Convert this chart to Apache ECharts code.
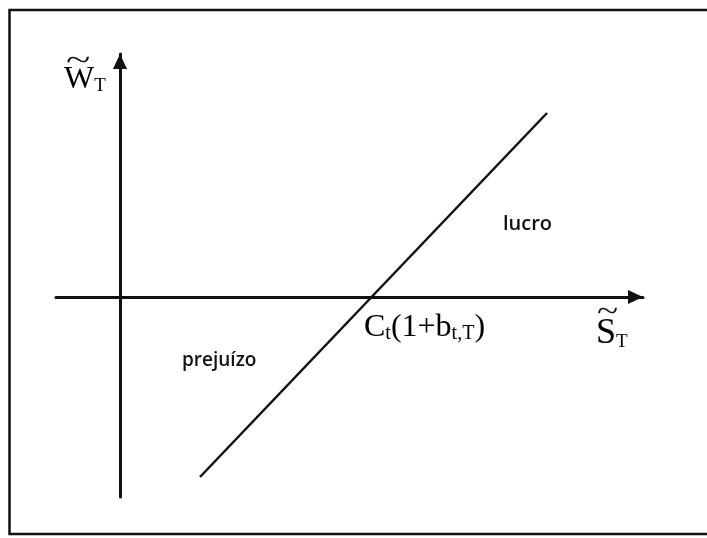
<!DOCTYPE html>
<html>
<head>
<meta charset="utf-8">
<script src="https://cdn.jsdelivr.net/npm/echarts@6/dist/echarts.min.js"></script>
<style>
  html, body { margin: 0; padding: 0; background: #fff; }
  #chart { width: 707px; height: 538px; }
</style>
</head>
<body>
<div id="chart"></div>
<script>
// axis extents (origin = where the two axes cross)
const xRange = [-64, 523]
const yRange = [-200, 243]

// payoff line end points
const payoffX = [80, 427]
const payoffY = [-180, 184]

const regionLabels = ['lucro', 'prejuízo']

const serif = '"Liberation Serif", "Times New Roman", serif'
const sans = '"Open Sans", "DejaVu Sans", sans-serif'
const ink = '#111'

function payoffData () {
    let pts = []
    for (var i = 0; i < payoffX.length; i++) {
        pts.push([payoffX[i], payoffY[i]])
    }
    return pts
}

// main letter + small subscript, bottoms lined up
function mathRich (big, small) {
    return {
        m: { fontFamily: serif, fontSize: big, lineHeight: big + 4, verticalAlign: 'bottom', color: ink },
        s: { fontFamily: serif, fontSize: small, lineHeight: small - 3, verticalAlign: 'bottom', color: ink }
    }
}

const axisCommon = {
    type: 'value',
    splitLine: { show: false },
    axisTick: { show: false },
    axisLabel: { show: false },
    axisLine: {
        show: true,
        onZero: true,
        symbol: ['none', 'triangle'],
        symbolSize: [14, 15],
        symbolOffset: [0, -7.5],
        lineStyle: { color: ink, width: 3 }
    }
}

let myChart = echarts.init(document.getElementById('chart'))

myChart.setOption({
    animation: false,
    backgroundColor: '#fff',
    grid: { left: 56, right: 64, top: 54, bottom: 41 },
    xAxis: Object.assign({}, axisCommon, { min: xRange[0], max: xRange[1] }),
    yAxis: Object.assign({}, axisCommon, { min: yRange[0], max: yRange[1] }),
    series: [{
        type: 'line',
        data: payoffData(),
        showSymbol: false,
        lineStyle: { color: ink, width: 2.5 }
    }],
    graphic: [
        {
            type: 'rect',
            shape: { x: 9.5, y: 10, width: 720, height: 524 },
            style: { fill: null, stroke: ink, lineWidth: 2.5 },
            silent: true
        },
        // W~ T  (tilde stretched to the letter width)
        { type: 'text', x: 66, y: 47, scaleX: 1.5, style: { text: '~', font: '30px ' + serif, fill: ink } },
        {
            type: 'text', x: 64, y: 60,
            style: { text: '{m|W}{s|T}', rich: mathRich(32, 19) }
        },
        // S~ T
        { type: 'text', x: 597, y: 298, scaleX: 1.3, style: { text: '~', font: '30px ' + serif, fill: ink } },
        {
            type: 'text', x: 596, y: 312,
            style: { text: '{m|S}{s|T}', rich: mathRich(36, 19) }
        },
        // C_t(1+b_{t,T})
        {
            type: 'text', x: 364, y: 308,
            style: { text: '{m|C}{s|t}{m|(1+b}{s|t,T}{m|)}', rich: mathRich(32, 20) }
        },
        { type: 'text', x: 503, y: 214, style: { text: regionLabels[0], font: '600 20px ' + sans, fill: ink } },
        { type: 'text', x: 182, y: 351, style: { text: regionLabels[1], font: '600 19px ' + sans, fill: ink } }
    ]
})
</script>
</body>
</html>
